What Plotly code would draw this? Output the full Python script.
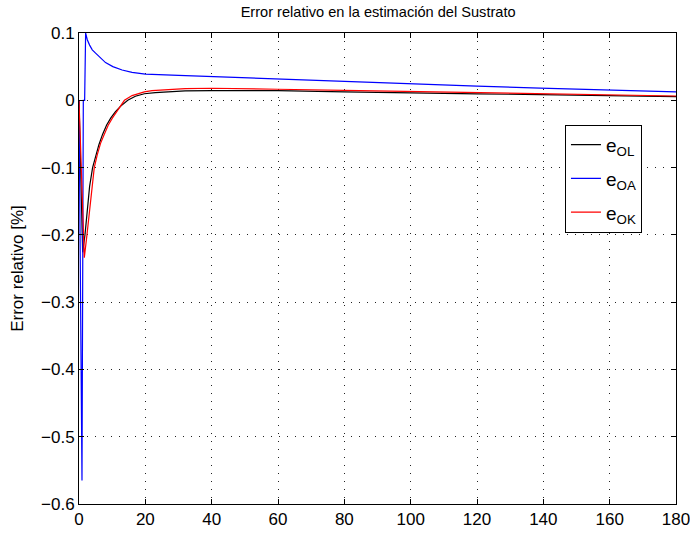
import plotly.graph_objects as go

# Error relativo de los observadores (t en horas, error en %)
t_ol = [0, 1.1, 1.8, 2.5, 3.2, 4.1, 5, 6, 7.1, 8.3, 9.6, 11, 12.5, 14.7, 17, 19.7,
        23, 26.7, 32, 40, 50, 60, 80, 97, 120, 139, 160, 180]
e_ol = [0, -0.226, -0.2, -0.162, -0.128, -0.1, -0.083, -0.066, -0.0507, -0.037,
        -0.0262, -0.017, -0.009, 0, 0.006, 0.0097, 0.0115, 0.0128, 0.014, 0.0145,
        0.0145, 0.0143, 0.0125, 0.0108, 0.0095, 0.0085, 0.007, 0.0055]

t_oa = [0, 0.9, 1.3, 1.7, 2.0, 2.5, 3.2, 4, 5, 6.2, 8, 10.2, 13, 16, 20, 30, 40,
        60, 80, 97, 120, 139, 160, 180]
e_oa = [0, -0.565, 0, 0, 0.1, 0.09, 0.082, 0.075, 0.07, 0.064, 0.056, 0.05, 0.045,
        0.0415, 0.039, 0.037, 0.0352, 0.0313, 0.0278, 0.0243, 0.021, 0.018, 0.0153,
        0.0124]

t_ok = [0, 1.6, 2.4, 3.2, 3.8, 4.6, 5.5, 6.5, 7.6, 8.8, 10.1, 11.8, 13.7, 16, 19.7,
        22, 26.7, 32, 40, 50, 60, 80, 97, 120, 139, 160, 180]
e_ok = [0, -0.234, -0.2, -0.165, -0.14, -0.1, -0.081, -0.064, -0.0507, -0.037,
        -0.0262, -0.013, 0, 0.007, 0.0125, 0.0143, 0.0158, 0.0172, 0.0179, 0.0175,
        0.0164, 0.0148, 0.0134, 0.011, 0.0094, 0.008, 0.0064]

x_ticks = [0, 20, 40, 60, 80, 100, 120, 140, 160, 180]
y_ticks = [0.1, 0, -0.1, -0.2, -0.3, -0.4, -0.5, -0.6]

FONT = "Liberation Sans, Arial, Helvetica, sans-serif"

fig = go.Figure()
fig.add_trace(go.Scatter(x=t_ol, y=e_ol, mode="lines", name="e<sub>OL</sub>",
                         legendgroup="ol", line=dict(color="#000000", width=1.2)))
fig.add_trace(go.Scatter(x=t_oa, y=e_oa, mode="lines", name="e<sub>OA</sub>",
                         legendgroup="oa", line=dict(color="#0000ff", width=1.2)))
fig.add_trace(go.Scatter(x=t_ok, y=e_ok, mode="lines", name="e<sub>OK</sub>",
                         legendgroup="ok", line=dict(color="#ff0000", width=1.2)))

axis_common = dict(
    showline=True, linecolor="black", linewidth=1, mirror="ticks",
    ticks="inside", ticklen=5, tickcolor="black", automargin=False,
    ticklabeloverflow="allow",
    showgrid=True, gridcolor="#222222", gridwidth=1, griddash="1px,7px",
    zeroline=False, tickfont=dict(family=FONT, size=17, color="black"),
)

fig.update_xaxes(range=[0, 180], tickvals=x_ticks,
                 ticktext=[str(v) for v in x_ticks], **axis_common)
fig.update_yaxes(range=[-0.6, 0.1], tickvals=y_ticks,
                 ticktext=[("\u2212" if v < 0 else "") + ("0" if v == 0 else f"{abs(v):g}") for v in y_ticks],
                 title=dict(text="Error relativo [%]", font=dict(family=FONT, size=17, color="black"),
                            standoff=13),
                 **axis_common)

fig.update_layout(
    width=690, height=535,
    margin=dict(l=79, r=14, t=33, b=31),
    paper_bgcolor="white", plot_bgcolor="white",
    title=dict(text="Error relativo en la estimación del Sustrato",
               font=dict(family=FONT, size=14.6, color="black"),
               x=0.548, xanchor="center", y=0.977, yanchor="middle"),
    showlegend=True,
    legend=dict(x=0.814, y=0.805, xanchor="left", yanchor="top",
                bgcolor="white", bordercolor="black", borderwidth=1,
                font=dict(family=FONT, size=19, color="black"),
                tracegroupgap=6),
)

fig.write_html("out.html")
